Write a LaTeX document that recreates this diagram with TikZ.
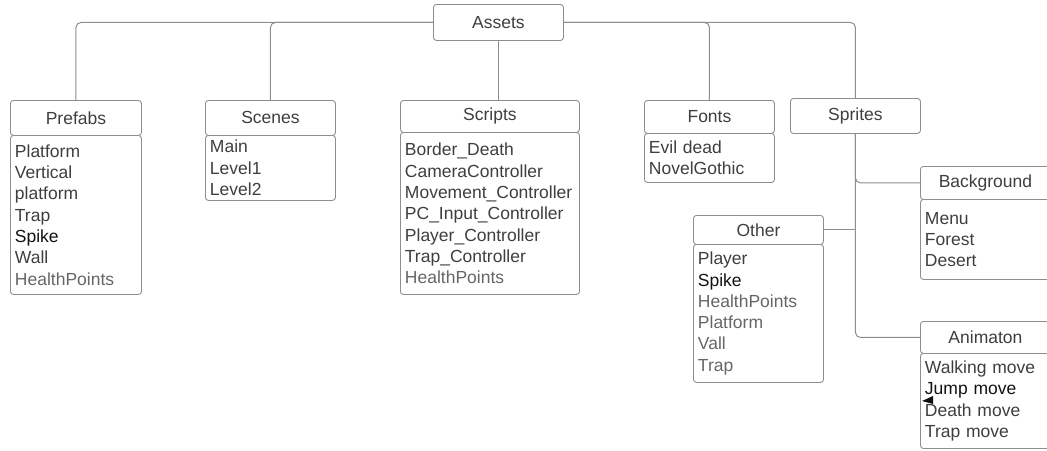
\documentclass[tikz,border=0pt]{standalone}
\usepackage{fontspec}
\setmainfont{Liberation Sans}
\definecolor{linec}{HTML}{8E8E8E}
\definecolor{txt}{HTML}{3E3E3E}
\definecolor{txtl}{HTML}{666666}
\definecolor{txtb}{HTML}{111111}
\tikzset{
  hdr/.style={draw=linec, rounded corners=3pt, line width=0.9pt, inner sep=0pt,
    anchor=north west, text=txt, font=\fontsize{17.5}{21.3}\selectfont},
  bodybox/.style={draw=linec, rounded corners=3pt, line width=0.9pt, anchor=north west,
    align=left, inner xsep=4.5pt, inner ysep=0pt, text=txt,
    font=\fontsize{17.5}{21.3}\selectfont},
  conn/.style={draw=linec, line width=1pt, rounded corners=5pt},
}
\begin{document}
\begin{tikzpicture}[x=1pt,y=-1pt]
\clip (0,0) rectangle (1047,450);
% root
\node[hdr, minimum width=130pt, minimum height=36pt] (assets) at (433,4) {Assets};
% Prefabs
\node[hdr, minimum width=131pt, minimum height=35pt] (prefabsH) at (10,100) {Prefabs};
\node[bodybox, minimum width=131pt, text width=122pt, minimum height=159pt] (prefabsB) at (10,135)
  {Platform\\Vertical\\platform\\Trap\\\textcolor{txtb}{Spike}\\Wall\\\textcolor{txtl}{HealthPoints}};
% Scenes
\node[hdr, minimum width=130pt, minimum height=35pt] (scenesH) at (205,100) {Scenes};
\node[bodybox, minimum width=130pt, text width=121pt, minimum height=65pt] (scenesB) at (205,135)
  {Main\\Level1\\Level2};
% Scripts
\node[hdr, minimum width=179pt, minimum height=32pt] (scriptsH) at (400,100) {Scripts};
\node[bodybox, minimum width=179pt, text width=170pt, minimum height=162pt] (scriptsB) at (400,132)
  {Border\_Death\\CameraController\\Movement\_Controller\\PC\_Input\_Controller\\Player\_Controller\\Trap\_Controller\\\textcolor{txtl}{HealthPoints}};
% Fonts
\node[hdr, minimum width=130pt, minimum height=33pt] (fontsH) at (644,100) {Fonts};
\node[bodybox, minimum width=130pt, text width=121pt, minimum height=49pt] (fontsB) at (644,133)
  {Evil dead\\NovelGothic};
% Sprites
\node[hdr, minimum width=130pt, minimum height=35pt] (spritesH) at (790,98) {Sprites};
% Other
\node[hdr, minimum width=130pt, minimum height=29pt] (otherH) at (693,215) {Other};
\node[bodybox, minimum width=130pt, text width=121pt, minimum height=138pt] (otherB) at (693,244)
  {Player\\\textcolor{txtb}{Spike}\\\textcolor{txtl}{HealthPoints}\\\textcolor{txtl}{Platform}\\\textcolor{txtl}{Vall}\\\textcolor{txtl}{Trap}};
% Background
\node[hdr, minimum width=130pt, minimum height=33pt] (bgH) at (920,166) {Background};
\node[bodybox, minimum width=130pt, text width=121pt, minimum height=80pt] (bgB) at (920,199)
  {Menu\\Forest\\Desert};
% Animaton
\node[hdr, minimum width=130pt, minimum height=32pt] (animH) at (920,321) {Animaton};
\node[bodybox, minimum width=130pt, text width=121pt, minimum height=95pt] (animB) at (920,353)
  {Walking move\\\textcolor{txtb}{Jump move}\\Death move\\Trap move};
% connectors
\draw[conn] (assets.west) -| (prefabsH.north);
\draw[conn] (assets.west) -| (scenesH.north);
\draw[conn] (assets.south) -- (assets.south |- scriptsH.north);
\draw[conn] (assets.east) -| (fontsH.north);
\draw[conn] (assets.east) -| (spritesH.north);
\draw[conn] (spritesH.south) |- (bgH.west);
\draw[conn] (spritesH.south) |- (animH.west);
\draw[conn] (otherH.east) -- (otherH.east -| spritesH.south);
% stray arrowhead
\coordinate (tip) at (922,401);
\fill[txtb] (tip) -- ++(11,-5) -- ++(0,8) -- cycle;
\end{tikzpicture}
\end{document}
